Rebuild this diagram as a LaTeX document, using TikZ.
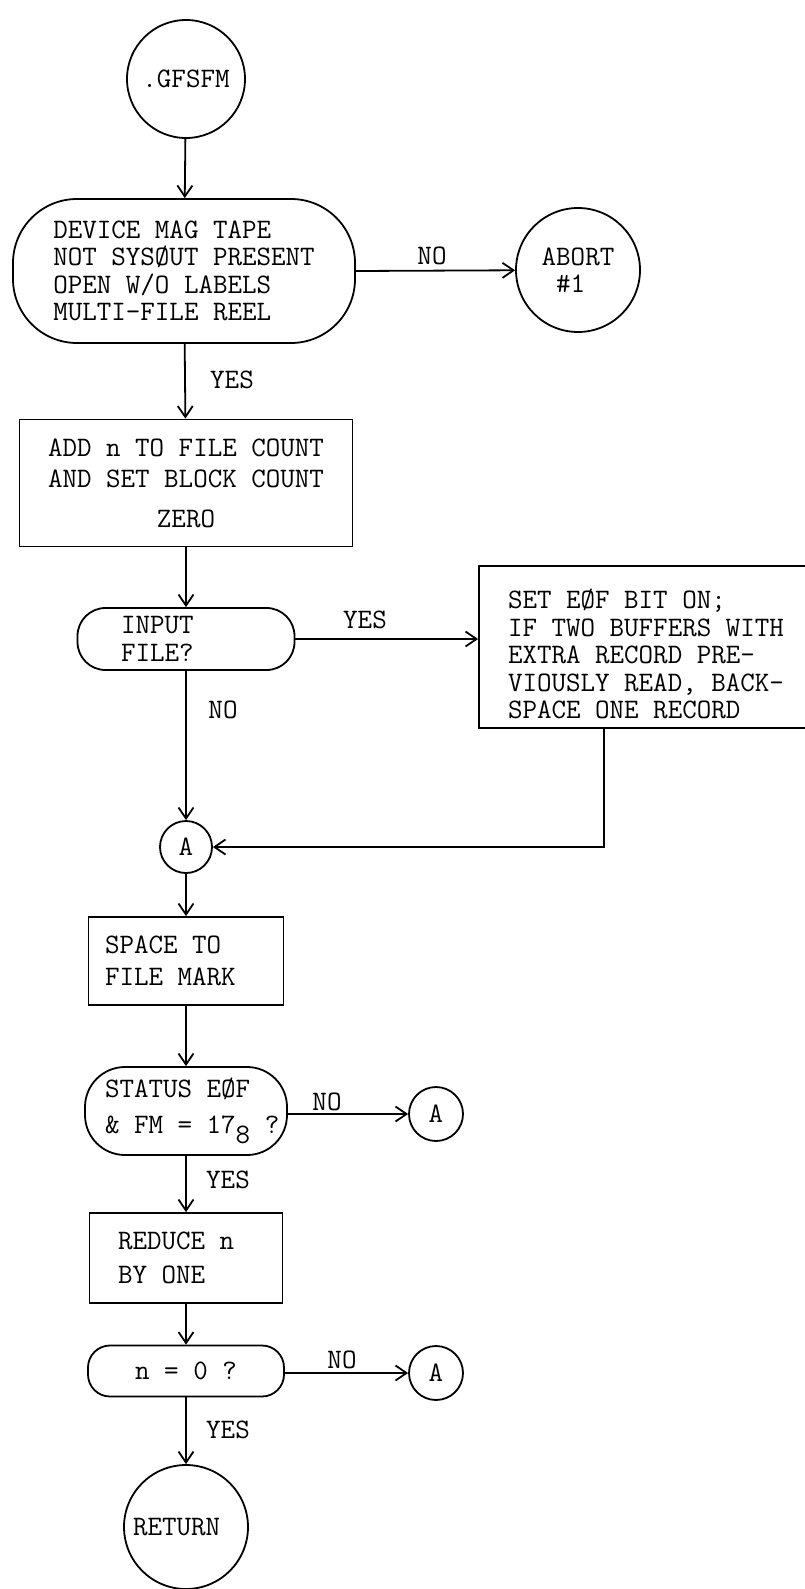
\documentclass[tikz,border=0pt]{standalone}
\usepackage{fontspec}
\usetikzlibrary{arrows.meta}

\tikzset{
    txt/.style={font=\ttfamily\fontsize{14.1pt}{13.75pt}\selectfont, inner sep=0pt,
        execute at begin node={\spaceskip=\fontdimen2\font\xspaceskip=\fontdimen2\font}},
    term/.style={txt, draw, circle, line width=0.9pt},
    procbox/.style={txt, draw, rectangle, line width=0.9pt},
    testbox/.style={txt, draw, rectangle, line width=0.9pt},
    arr/.style={line width=0.9pt, -{Straight Barb[length=5.5pt,width=7.5pt,line width=0.9pt]}},
}

\begin{document}
\begin{tikzpicture}[x=0.5pt, y=-0.5pt]
    \useasboundingbox (0,0) rectangle (804,1589);

    \node[term, minimum size=59pt] (start) at (186,79) {.GFSFM};
    \node[testbox, rounded corners=32pt, minimum width=171pt, minimum height=72pt,
        align=left] (device) at (184,271)
        {DEVICE MAG TAPE\\NOT SYSØUT PRESENT\\OPEN W/O LABELS\\MULTI-FILE REEL};
    \node[term, minimum size=62pt, align=left] (abort) at (578,270)
        {ABORT\\\hphantom{A}\#1};
    \node[procbox, minimum width=166.5pt, minimum height=63.5pt, align=center]
        (addn) at (186,483)
        {ADD n TO FILE COUNT\\[2pt]AND SET BLOCK COUNT\\[6pt]ZERO};
    \node[testbox, rounded corners=14pt, minimum width=108.5pt, minimum height=31pt,
        text width=65pt] (input) at (186,639) {INPUT\\FILE?};
    \node[procbox, minimum width=175.5pt, minimum height=81pt,
        text width=146.5pt] (seteof) at (654.5,647)
        {\rule{0pt}{17pt}SET EØF BIT ON;\\IF TWO BUFFERS WITH\\EXTRA RECORD PRE-\\VIOUSLY READ, BACK-\\SPACE ONE RECORD};
    \node[term, minimum size=26pt] (conA) at (186,847) {A};
    \node[procbox, minimum width=97.5pt, minimum height=44pt,
        text width=81pt] (space) at (186,961) {SPACE TO\\[2pt]FILE MARK};
    \node[testbox, rounded corners=20pt, minimum width=101pt, minimum height=44pt,
        text width=81pt] (status) at (186,1111)
        {STATUS EØF\\[4pt]\mbox{\& FM = 17\raisebox{-5pt}{8} ?}};
    \node[term, minimum size=27pt] (conA2) at (436,1114) {A};
    \node[procbox, minimum width=96.5pt, minimum height=45pt,
        text width=68pt] (reduce) at (186,1258) {REDUCE n\\[3pt]BY ONE};
    \node[testbox, rounded corners=11pt, minimum width=98pt, minimum height=25.5pt]
        (nzero) at (186,1371) {n = 0 ?};
    \node[term, minimum size=27pt] (conA3) at (436,1373) {A};
    \node[term, minimum size=62pt, text width=53pt] (return) at (186,1527)
        {RETURN\\[10pt]};
    \coordinate (drop) at (604,0);

    \draw[arr] (start) -- (device);
    \draw[arr] (device.east) -- (abort);
    \draw[arr] (device) -- (addn);
    \draw[arr] (addn) -- (input);
    \draw[arr] (input.east) -- (input.east -| seteof.west);
    \draw[arr] (input) -- (conA);
    \draw[arr] (seteof.south -| drop) |- (conA);
    \draw[arr] (conA) -- (space);
    \draw[arr] (space) -- (status);
    \draw[arr] (status.east |- conA2) -- (conA2);
    \draw[arr] (status) -- (reduce);
    \draw[arr] (reduce) -- (nzero);
    \draw[arr] (nzero.east |- conA3) -- (conA3);
    \draw[arr] (nzero) -- (return);

    \node[txt] (no1) at (432,256) {NO};
    \node[txt] (yes1) at (232,380) {YES};
    \node[txt] (yes2) at (365,620) {YES};
    \node[txt] (no2) at (223,710) {NO};
    \node[txt] (no3) at (327,1102) {NO};
    \node[txt] (yes3) at (228,1180) {YES};
    \node[txt] (no4) at (342,1360) {NO};
    \node[txt] (yes4) at (228,1430) {YES};
\end{tikzpicture}
\end{document}
